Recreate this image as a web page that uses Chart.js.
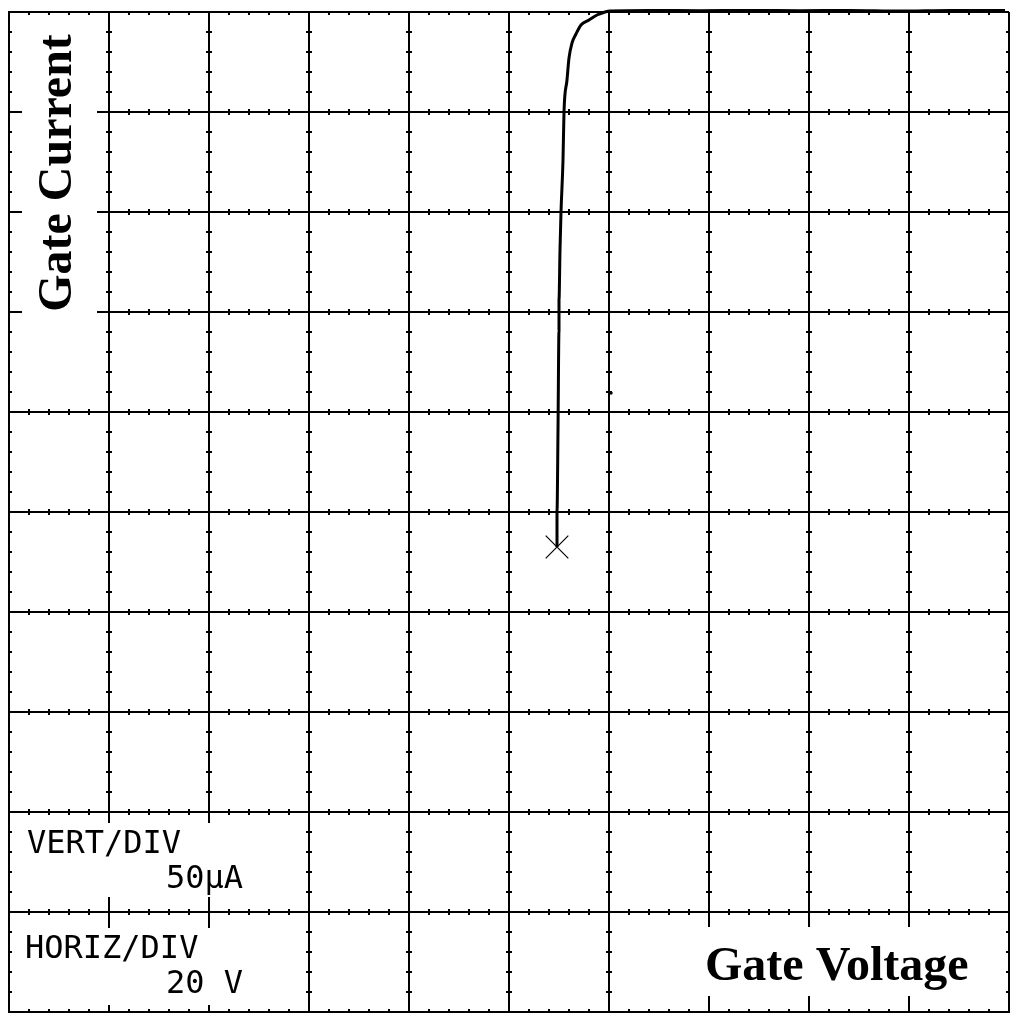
<!DOCTYPE html>
<html>
<head>
<meta charset="utf-8">
<script src="https://cdn.jsdelivr.net/npm/chart.js@4.4.1/dist/chart.umd.min.js"></script>
<style>
  html, body { margin: 0; padding: 0; background: #fff; }
  #wrap { width: 1020px; height: 1024px; position: relative; }
</style>
</head>
<body>
<div id="wrap"><canvas id="curveChart"></canvas></div>
<script>
// gate voltage (V) / gate current (uA) trace, 20 V/div and 50 uA/div
const gateVoltage = [109.6, 109.6, 109.8, 110.0, 110.0, 110.2, 110.4, 110.8, 111.0, 111.6, 112.0, 112.6, 113.4, 114.4, 116.0, 117.6, 119.2, 120.2, 128.2, 138.2, 148.2, 158.2, 168.2, 178.2, 188.2, 199.2];
const gateCurrent = [232.5, 250.0, 291.0, 341.0, 356.0, 381.0, 400.0, 426.0, 450.0, 466.0, 477.0, 484.5, 489.0, 493.5, 496.0, 498.5, 500.0, 500.5, 500.8, 500.6, 500.8, 500.6, 500.8, 500.5, 500.8, 500.8];

// cursor marker and a stray dot
const markerPoint = [{ x: 109.6, y: 232.5 }];
const strayPoint = [{ x: 120.4, y: 309.5 }];

// screen divisions
const voltsPerDiv = 20;
const ampsPerDiv = 50;
const divisions = 10;
const minorPerDiv = 5;

const traceData = gateVoltage.map((v, i) => ({ x: v, y: gateCurrent[i] }));

// draws the small cross ticks along every grid line, plus the labels
const screenPlugin = {
    id: "screen",
    afterDraw(chart) {
        const ctx = chart.ctx;
        const area = chart.chartArea;
        const xs = chart.scales.x;
        const ys = chart.scales.y;

        ctx.save();
        ctx.beginPath();
        ctx.rect(area.left, area.top, area.right - area.left, area.bottom - area.top);
        ctx.clip();
        ctx.strokeStyle = "#000";
        ctx.lineWidth = 2;
        ctx.beginPath();
        const xMinor = voltsPerDiv / minorPerDiv;
        const yMinor = ampsPerDiv / minorPerDiv;
        for (let i = 0; i <= divisions; i++) {
            // ticks along vertical lines
            const px = xs.getPixelForValue(i * voltsPerDiv);
            for (let k = 0; k <= divisions * minorPerDiv; k++) {
                const py = ys.getPixelForValue(k * yMinor);
                ctx.moveTo(px - 3, py);
                ctx.lineTo(px + 3, py);
            }
            // ticks along horizontal lines
            const hy = ys.getPixelForValue(i * ampsPerDiv);
            for (let k = 0; k <= divisions * minorPerDiv; k++) {
                const hx = xs.getPixelForValue(k * xMinor);
                ctx.moveTo(hx, hy - 3);
                ctx.lineTo(hx, hy + 3);
            }
        }
        ctx.stroke();
        ctx.restore();

        // white boxes behind the labels, they cut the grid
        ctx.save();
        ctx.fillStyle = "#fff";
        ctx.fillRect(area.left + 13, area.top + 8, 75, 298);
        ctx.fillRect(area.left + 5, area.bottom - 189, 246, 74);
        ctx.fillRect(area.left + 5, area.bottom - 84, 246, 77);
        ctx.fillRect(area.left + 691, area.bottom - 85, 300, 69);

        ctx.fillStyle = "#000";
        ctx.font = "bold 48px 'Liberation Serif'";
        ctx.textAlign = "center";
        ctx.textBaseline = "alphabetic";
        ctx.translate(area.left + 62, area.top + 161);
        ctx.rotate(-Math.PI / 2);
        ctx.fillText("Gate Current", 0, 0);
        ctx.restore();

        ctx.save();
        ctx.fillStyle = "#000";
        ctx.font = "bold 48px 'Liberation Serif'";
        ctx.textAlign = "left";
        ctx.fillText("Gate Voltage", 705, 980);

        ctx.font = "32px 'DejaVu Sans Mono'";
        ctx.fillText("VERT/DIV", 27, 853);
        ctx.fillText("50\u00b5A", 166, 888);
        ctx.fillText("HORIZ/DIV", 25, 958);
        ctx.fillText("20 V", 166, 993);
        ctx.restore();
    },
};

new Chart(document.getElementById("curveChart"), {
    type: "scatter",
    data: {
        datasets: [
            {
                data: traceData,
                showLine: true,
                borderColor: "#000",
                borderWidth: 3,
                pointRadius: 0,
                cubicInterpolationMode: "monotone",
                clip: false,
            },
            {
                data: markerPoint,
                pointStyle: "crossRot",
                pointRadius: 16,
                borderColor: "#000",
                borderWidth: 1.2,
            },
            {
                data: strayPoint,
                pointStyle: "rect",
                pointRadius: 1.5,
                backgroundColor: "#000",
                borderColor: "#000",
            },
        ],
    },
    plugins: [screenPlugin],
    options: {
        responsive: true,
        maintainAspectRatio: false,
        animation: false,
        layout: { autoPadding: false, padding: { left: 9, top: 12, right: 11, bottom: 12 } },
        plugins: {
            legend: { display: false },
            tooltip: { enabled: false },
        },
        scales: {
            x: {
                type: "linear",
                min: 0,
                max: voltsPerDiv * divisions,
                ticks: { display: false, stepSize: voltsPerDiv },
                grid: { color: "#000", lineWidth: 2, drawTicks: false },
                border: { display: true, color: "#000", width: 2 },
            },
            y: {
                type: "linear",
                min: 0,
                max: ampsPerDiv * divisions,
                ticks: { display: false, stepSize: ampsPerDiv },
                grid: { color: "#000", lineWidth: 2, drawTicks: false },
                border: { display: true, color: "#000", width: 2 },
            },
        },
    },
});
</script>
</body>
</html>
